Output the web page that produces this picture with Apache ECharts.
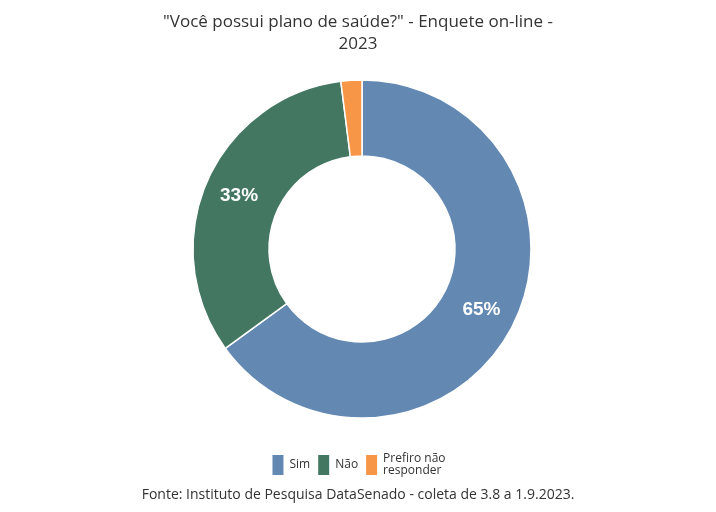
<!DOCTYPE html>
<html><head><meta charset="utf-8">
<script src="https://cdn.jsdelivr.net/npm/echarts@6/dist/echarts.min.js"></script>
<style>body{margin:0}#c{width:716px;height:512px}</style></head>
<body><div id="c"></div>
<script>
var categories = ['Sim', 'Não', 'Prefiro não\nresponder'];
var values = [65, 33, 2];
var colors = ['#6389B3', '#437762', '#F79646'];

var myChart = echarts.init(document.getElementById('c'));
option = {
    title: {
        text: '"Você possui plano de saúde?" - Enquete on-line -\n2023',
        left: 'center',
        top: 6,
        textStyle: { fontFamily: 'Open Sans', fontWeight: 'normal', fontSize: 17, color: '#333', lineHeight: 22 }
    },
    legend: {
        bottom: 30,
        left: 'center',
        itemWidth: 13,
        itemHeight: 22,
        itemGap: 6,
        icon: 'rect',
        textStyle: { fontFamily: 'Open Sans', fontSize: 12, color: '#333' },
        data: categories
    },
    graphic: [{
        type: 'text',
        left: 'center',
        top: 488,
        style: {
            text: 'Fonte: Instituto de Pesquisa DataSenado - coleta de 3.8 a 1.9.2023.',
            fontFamily: 'Open Sans', fontSize: 14, fill: '#333'
        }
    }],
    series: [{
        type: 'pie',
        radius: [93, 169],
        center: [362, 249],
        startAngle: 90,
        clockwise: true,
        itemStyle: { borderColor: '#fff', borderWidth: 1.5 },
        label: {
            show: true,
            position: 'inside',
            formatter: function (p) { return p.value >= 5 ? p.value + '%' : ''; },
            color: '#fff',
            fontSize: 19,
            fontWeight: 'bold',
            fontFamily: 'Liberation Sans'
        },
        labelLine: { show: false },
        data: categories.map(function (n, i) {
            return { name: n, value: values[i], itemStyle: { color: colors[i] } };
        })
    }]
};
myChart.setOption(option);
</script></body></html>
